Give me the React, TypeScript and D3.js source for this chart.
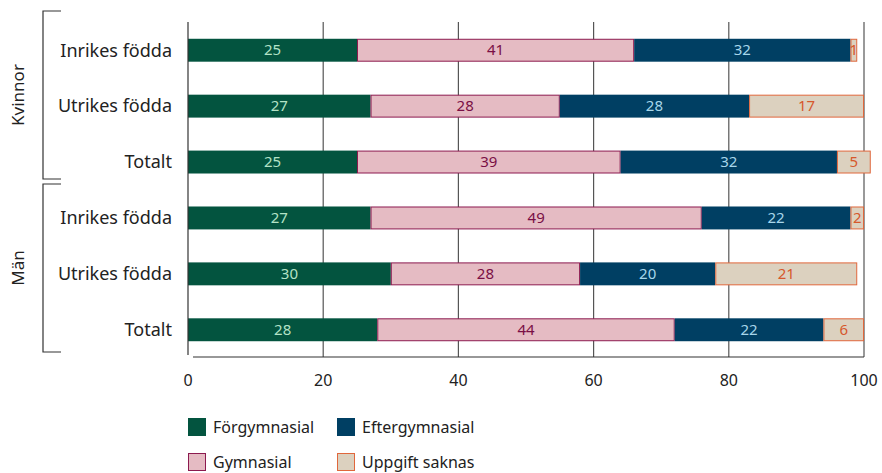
import React from "react";
import * as d3 from "d3";

// Education level shares (%) by sex and country of birth
const groups = ["Kvinnor", "Män"];
const categories = ["Inrikes födda", "Utrikes födda", "Totalt"];
const seriesNames = ["Förgymnasial", "Gymnasial", "Eftergymnasial", "Uppgift saknas"];

const forgymnasial = [25, 27, 25, 27, 30, 28];
const gymnasial = [41, 28, 39, 49, 28, 44];
const eftergymnasial = [32, 28, 32, 22, 20, 22];
const uppgiftSaknas = [1, 17, 5, 2, 21, 6];

const xTicks = [0, 20, 40, 60, 80, 100];

const fills = ["#03543f", "#e5bbc3", "#003f63", "#dcd1bf"];
const strokes = ["none", "#8c1a4f", "none", "#e0673c"];
const labelColors = ["#b3e2c6", "#7a0f45", "#a7d6ea", "#d6582c"];

const W = 882;
const H = 473;
const FONT = "'Noto Sans', 'Open Sans', sans-serif";

export default function App() {
  const x = d3.scaleLinear().domain([0, 100]).range([188, 864]);
  const rowKeys = d3.range(6);
  const y = d3.scaleBand<number>().domain(rowKeys).range([22, 358]).paddingInner(0.59).paddingOuter(0.3);

  const table = rowKeys.map((i) => ({
    i,
    values: [forgymnasial[i], gymnasial[i], eftergymnasial[i], uppgiftSaknas[i]],
  }));
  const stack = d3
    .stack<{ i: number; values: number[] }, number>()
    .keys([0, 1, 2, 3])
    .value((d, k) => d.values[k]);
  const stacked = stack(table);

  const bh = y.bandwidth();

  const brackets = [
    { name: groups[0], y0: 11, y1: 179 },
    { name: groups[1], y0: 184, y1: 352 },
  ];

  const legendItems = [
    { k: 0, x: 188, y: 418 },
    { k: 2, x: 337, y: 418 },
    { k: 1, x: 188, y: 453 },
    { k: 3, x: 337, y: 453 },
  ];

  return (
    <svg width={W} height={H} style={{ position: "absolute", left: 0, top: 0 }} fontFamily={FONT}>
      <rect width={W} height={H} fill="#fff" />
      {/* grid lines */}
      {xTicks.slice(1).map((t) => (
        <line key={t} x1={x(t)} x2={x(t)} y1={22} y2={357} stroke="#555" strokeWidth={1.2} />
      ))}
      {/* bars */}
      {stacked.map((layer, k) =>
        layer.map((seg, r) => {
          const x0 = x(seg[0]);
          const x1 = x(seg[1]);
          const yy = y(r)!;
          const hasStroke = strokes[k] !== "none";
          return (
            <g key={`${k}-${r}`}>
              <rect
                x={hasStroke ? x0 + 0.5 : x0}
                y={hasStroke ? yy + 0.5 : yy}
                width={hasStroke ? Math.max(0, x1 - x0 - 1) : x1 - x0}
                height={hasStroke ? bh - 1 : bh}
                fill={fills[k]}
                stroke={hasStroke ? strokes[k] : "none"}
                strokeWidth={1}
              />
              <text
                x={(x0 + x1) / 2}
                y={yy + bh / 2}
                dy="0.35em"
                textAnchor="middle"
                fontSize={15}
                fill={labelColors[k]}
              >
                {table[r].values[k]}
              </text>
            </g>
          );
        })
      )}
      {/* axes */}
      <line x1={188} x2={188} y1={22} y2={355} stroke="#333" strokeWidth={1.2} />
      <line x1={193} x2={864} y1={357} y2={357} stroke="#333" strokeWidth={1.2} />
      {xTicks.map((t) => (
        <text key={t} x={x(t)} y={380} dy="0.35em" textAnchor="middle" fontSize={16} fill="#222">
          {t}
        </text>
      ))}
      {/* category labels */}
      {rowKeys.map((r) => (
        <text
          key={r}
          x={172}
          y={y(r)! + bh / 2}
          dy="0.35em"
          textAnchor="end"
          fontSize={18}
          fill="#222"
        >
          {categories[r % 3]}
        </text>
      ))}
      {/* group brackets */}
      {brackets.map((b) => (
        <g key={b.name}>
          <path
            d={`M61,${b.y0}H43V${b.y1}H61`}
            fill="none"
            stroke="#333"
            strokeWidth={1.2}
          />
          <text
            transform={`translate(18,${(b.y0 + b.y1) / 2}) rotate(-90)`}
            dy="0.35em"
            textAnchor="middle"
            fontSize={17}
            fill="#222"
          >
            {b.name}
          </text>
        </g>
      ))}
      {/* legend */}
      {legendItems.map((l) => {
        const hasStroke = strokes[l.k] !== "none";
        return (
          <g key={l.k}>
            <rect
              x={hasStroke ? l.x + 0.5 : l.x}
              y={hasStroke ? l.y + 0.5 : l.y}
              width={hasStroke ? 17 : 18}
              height={hasStroke ? 17 : 18}
              fill={fills[l.k]}
              stroke={hasStroke ? strokes[l.k] : "none"}
            />
            <text x={l.x + 25} y={l.y + 9} dy="0.35em" fontSize={16} fill="#222">
              {seriesNames[l.k]}
            </text>
          </g>
        );
      })}
    </svg>
  );
}
